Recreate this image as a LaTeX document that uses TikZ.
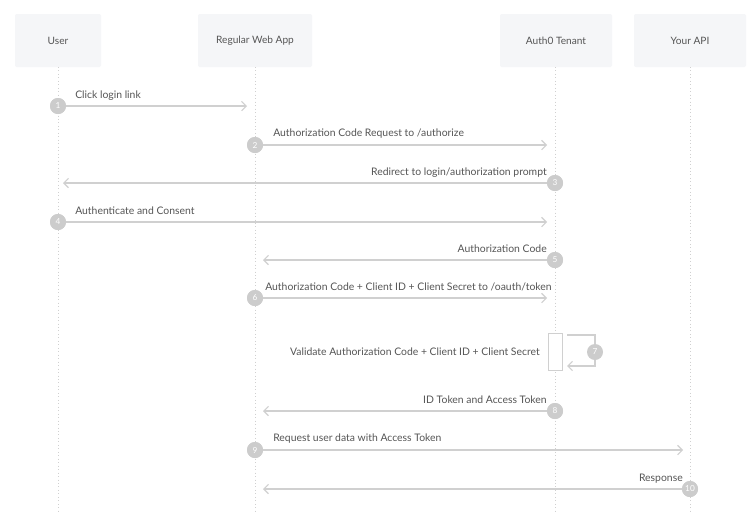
\documentclass[tikz,border=0pt]{standalone}
\usepackage{fontspec}
\setmainfont{Lato}
\usetikzlibrary{arrows.meta}
\definecolor{boxc}{HTML}{F5F6F8}
\definecolor{linec}{HTML}{D0D0D0}
\definecolor{circc}{HTML}{CCCCCC}
\definecolor{txtc}{HTML}{555555}
\tikzset{
 part/.style={fill=boxc,draw=none,rounded corners=1.5pt,font=\fontsize{7.6}{8}\selectfont,text=txtc},
 life/.style={draw=linec,dotted,line width=0.6pt},
 msg/.style={draw=linec,line width=0.8pt,-{Straight Barb[length=3.5pt,width=7pt]}},
 num/.style={circle,fill=circc,minimum size=12pt,inner sep=0pt,text=white,font=\fontsize{6.2}{7}\selectfont},
 lbl/.style={font=\fontsize{7.8}{9}\selectfont,text=txtc,inner sep=0pt}
}
\begin{document}
\begin{tikzpicture}[x=0.75pt,y=-0.75pt]
\useasboundingbox[fill=white] (0,0) rectangle (752,511);
\node[part,minimum width=64.5pt,minimum height=39.75pt] (u) at (58,40.5) {User};
\node[part,minimum width=85.5pt,minimum height=39.75pt] (w) at (255,40.5) {Regular Web App};
\node[part,minimum width=84pt,minimum height=39.75pt] (t) at (556,40.5) {Auth0 Tenant};
\node[part,minimum width=84pt,minimum height=39.75pt] (a) at (690,40.5) {Your API};
\foreach \n/\x in {u/58,w/255,t/555,a/690}{
 \coordinate (\n b) at (\x,511);
 \draw[life] (\x,67) -- (\n b);
}
% activation
\node[draw=linec,fill=white,minimum width=10.5pt,minimum height=28pt,inner sep=0pt] (act) at (555,351.5) {};
% message endpoints
\foreach \n/\x/\y in {s1/58/106,s2/255/145,s3/555/183,s4/58/222,s5/555/260,s6/255/298,s8/555/411,s9/255/450,s10/690/489}{
 \node[num] (\n) at (\x,\y) {};
}
\node[num] at (s1) {1};\node[num] at (s2) {2};\node[num] at (s3) {3};\node[num] at (s4) {4};\node[num] at (s5) {5};
\node[num] at (s6) {6};\node[num] at (s8) {8};\node[num] at (s9) {9};\node[num] at (s10) {10};
\coordinate (e1) at (247,106);
\coordinate (e2) at (547,145);
\coordinate (e3) at (63,183);
\coordinate (e4) at (547,222);
\coordinate (e5) at (263,260);
\coordinate (e6) at (547,298);
\coordinate (e8) at (263,411);
\coordinate (e9) at (683,450);
\coordinate (e10) at (263,489);
\foreach \i in {1,2,3,4,5,6,8,9,10}{\draw[msg] (s\i) -- (e\i);}
% self loop
\coordinate (l1) at (567,335);
\coordinate (l2) at (567,366);
\draw[msg] (l1) -- (595,335) -- (595,366) -- (l2);
\node[num] (s7) at (595,352) {7};
% labels
\node[lbl,anchor=base west] at (75,98) {Click login link};
\node[lbl,anchor=base west] at (273,136) {Authorization Code Request to /authorize};
\node[lbl,anchor=base east] at (547,175) {Redirect to login/authorization prompt};
\node[lbl,anchor=base west] at (75,214) {Authenticate and Consent};
\node[lbl,anchor=base east] at (547,252) {Authorization Code};
\node[lbl,anchor=base west] at (265,290) {Authorization Code + Client ID + Client Secret to /oauth/token};
\node[lbl,anchor=base east] at (540,355) {Validate Authorization Code + Client ID + Client Secret};
\node[lbl,anchor=base east] at (547,403) {ID Token and Access Token};
\node[lbl,anchor=base west] at (273,441) {Request user data with Access Token};
\node[lbl,anchor=base east] at (683,481) {Response};
\end{tikzpicture}
\end{document}
